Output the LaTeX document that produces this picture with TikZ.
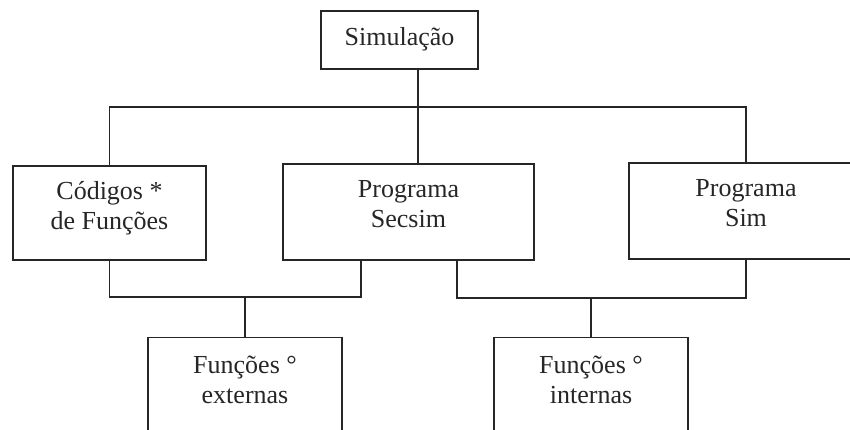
\documentclass[tikz,border=0pt]{standalone}
\usepackage{fontspec}
\setmainfont{Liberation Serif}

\tikzset{
    box/.style = {draw=black!85, line width=1.2pt, inner sep=0pt, align=center,
                  font=\fontsize{26pt}{30pt}\selectfont, text=black!85},
    twoline/.style = {text depth=16pt},
    link/.style = {draw=black!85, line width=1.2pt}
}

\begin{document}
\begin{tikzpicture}[x=1pt, y=-1pt]
    %page and clip for the cut boxes
        \useasboundingbox (0,0) rectangle (850,429);
        \clip (0,0) rectangle (850,429);

    %boxes
        \node[box, minimum width=157pt, minimum height=58pt, text depth=7pt] (sim) at (399.5,40) {Simulação};
        \node[box, twoline, minimum width=193pt, minimum height=94pt] (cod) at (109.5,213) {Códigos *\\de Funções};
        \node[box, twoline, minimum width=251pt, minimum height=96pt] (secsim) at (408.5,212) {Programa\\Secsim};
        \node[box, twoline, minimum width=234pt, minimum height=96pt] (psim) at (746,211) {Programa\\Sim};
        \node[box, twoline, minimum width=194pt, minimum height=100pt, anchor=north] (ext) at (245,337) {Funções °\\externas};
        \node[box, twoline, minimum width=194pt, minimum height=100pt, anchor=north] (int) at (591,337) {Funções °\\internas};

    %joints of the lines
        \coordinate (top) at (418,107);
        \coordinate (secL) at ([xshift=-47.5pt]secsim.south);
        \coordinate (secR) at ([xshift=48.5pt]secsim.south);
        \coordinate (lowL) at (245,297);
        \coordinate (lowR) at (591,298);

    %upper tree
        \draw[link] (sim.south -| top) -- (secsim.north -| top);
        \draw[link] (cod.north) -- (cod.north |- top) -- (psim.north |- top) -- (psim.north);

    %lower trees
        \draw[link] (cod.south) |- (lowL) -| (secL);
        \draw[link] (lowL) -- (ext.north);
        \draw[link] (secR) |- (lowR) -| (psim.south);
        \draw[link] (lowR) -- (int.north);
\end{tikzpicture}
\end{document}
